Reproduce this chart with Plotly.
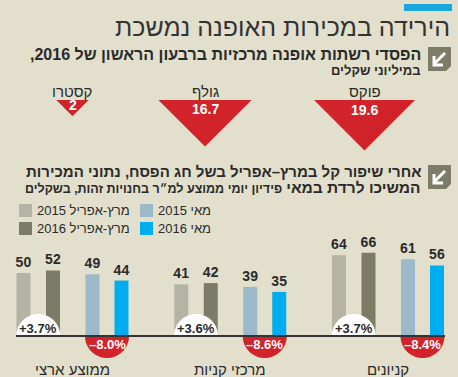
import math
import plotly.graph_objects as go

# ---------------- data ----------------
TITLE = "הירידה במכירות האופנה נמשכת"
SUB1_L1 = "הפסדי רשתות אופנה מרכזיות ברבעון הראשון של 2016,"
SUB1_L2 = "במיליוני שקלים"
SUB2_L1 = "אחרי שיפור קל במרץ–אפריל בשל חג הפסח, נתוני המכירות"
SUB2_L2A = "המשיכו לרדת במאי"
SUB2_L2B = "פידיון יומי ממוצע למ״ר בחנויות זהות, בשקלים"

chains = ["פוקס", "גולף", "קסטרו"]
losses = [19.6, 16.7, 2]

categories = ["ממוצע ארצי", "מרכזי קניות", "קניונים"]
series_names = ["מרץ-אפריל 2015", "מרץ-אפריל 2016", "מאי 2015", "מאי 2016"]
marapr_2015 = [50, 41, 64]
marapr_2016 = [52, 42, 66]
may_2015 = [49, 39, 61]
may_2016 = [44, 35, 56]
change_marapr = ["+3.7%", "+3.6%", "+3.7%"]
change_may = ["–8.0%", "–8.6%", "–8.4%"]

# ---------------- style / layout ----------------
W, H = 458, 377
BG = "#e2dfcc"
RED = "#d2232a"
DARK = "#2a2a2a"
ICON = "#7d7c69"
BLUE_TOP = "#1aa6df"
BAR_COLORS = ["#b4b3a4", "#7c7b66", "#9cb9c9", "#00aeef"]
HEB = "Liberation Sans, Arial, DejaVu Sans, sans-serif"


def px(x):
    return x / W


def py(y):
    return 1 - y / H


def rtl(s):
    return "\u202b" + s + "\u202c"


fig = go.Figure()

# ---- triangles panel (axis units = pixels) ----
TRI_CX = [364.5, 205, 72.5]
TRI_W_MAX = 101
TRI_TOP_PX, TRI_BOT_PX = 100, 160
tx, ty, tri_h = [], [], []
vmax = max(losses)
for cx, v in zip(TRI_CX, losses):
    w = TRI_W_MAX * math.sqrt(v / vmax)
    h = w / 2
    tri_h.append(h)
    tx += [cx - w / 2, cx + w / 2, cx, cx - w / 2, None]
    ty += [0, 0, -h, 0, None]
fig.add_trace(go.Scatter(x=tx, y=ty, mode="lines", fill="toself",
                         fillcolor=RED, line=dict(width=0, color=RED),
                         hoverinfo="skip", xaxis="x2", yaxis="y2"))

# ---- bars panel ----
G0_PX = 72.5          # pixel of first group centre
S = 157.75            # pixels per group
DOM_L, DOM_R = 16, 445
BAR_TOP_PX, BAR_BOT_PX, BASE_PX = 236, 360, 336
PX_PER_UNIT = 1.26
BAR_W_PX = 14
BAR_LEFTS_PX = [-56, -26.5, 13, 42]

series = [marapr_2015, marapr_2016, may_2015, may_2016]
xs = list(range(len(categories)))
for name, vals, col, left in zip(series_names, series, BAR_COLORS, BAR_LEFTS_PX):
    fig.add_trace(go.Bar(
        x=xs, y=vals, name=name, marker=dict(color=col, line=dict(width=0)),
        width=BAR_W_PX / S, offset=left / S,
        text=vals, texttemplate="<b>%{text}</b>", textposition="outside",
        textfont=dict(family=HEB, size=14, color=DARK),
        constraintext="none", cliponaxis=False, hoverinfo="skip",
        xaxis="x", yaxis="y"))

shapes = []
annotations = []


def semicircle(r, up=True, n=40):
    pts = []
    for i in range(n + 1):
        t = math.pi * i / n
        x = r * math.cos(t)
        y = r * math.sin(t) * (1 if up else -1)
        pts.append(f"{x:.2f},{y:.2f}")
    return "M " + " L ".join(pts) + " Z"


R = 22
pair1_c = (BAR_LEFTS_PX[0] + BAR_LEFTS_PX[1] + BAR_W_PX) / 2 / S
pair2_c = (BAR_LEFTS_PX[2] + BAR_LEFTS_PX[3] + BAR_W_PX) / 2 / S
for i in xs:
    shapes.append(dict(type="path", xref="x", yref="y", xsizemode="pixel",
                       ysizemode="pixel", xanchor=i + pair1_c, yanchor=0,
                       path=semicircle(R, True), fillcolor="white",
                       line=dict(width=0), layer="above"))
    shapes.append(dict(type="path", xref="x", yref="y", xsizemode="pixel",
                       ysizemode="pixel", xanchor=i + pair2_c, yanchor=0,
                       path=semicircle(R, False), fillcolor=RED,
                       line=dict(width=0), layer="above"))
    annotations.append(dict(x=i + pair1_c, y=0, xref="x", yref="y",
                            text="<b>" + change_marapr[i] + "</b>", showarrow=False,
                            yshift=8, font=dict(family=HEB, size=13, color=DARK)))
    annotations.append(dict(x=i + pair2_c, y=0, xref="x", yref="y",
                            text="<b>" + change_may[i] + "</b>", showarrow=False,
                            yshift=-8, font=dict(family=HEB, size=13, color="white")))
    annotations.append(dict(x=i, y=py(369), xref="x", yref="paper",
                            text=rtl(categories[i]), showarrow=False, yanchor="middle",
                            font=dict(family=HEB, size=15, color=DARK)))

# baseline
shapes.append(dict(type="line", xref="x domain", yref="y", x0=0, x1=1, y0=0, y1=0,
                   line=dict(color="#333333", width=2), layer="above"))

# triangle labels
for cx, name, v, h in zip(TRI_CX, chains, losses, tri_h):
    annotations.append(dict(x=cx, y=0, xref="x2", yref="y2", text=rtl(name),
                            showarrow=False, yanchor="middle", yshift=9,
                            font=dict(family=HEB, size=15, color=DARK)))
    annotations.append(dict(x=cx, y=0, xref="x2", yref="y2",
                            text="<b>%s</b>" % ("%g" % v),
                            showarrow=False, yanchor="middle",
                            yshift=-max(5, 0.2 * h),
                            font=dict(family=HEB, size=14, color="white")))

# top blue bar
shapes.append(dict(type="rect", xref="paper", yref="paper", x0=px(404), x1=px(452),
                   y0=py(11), y1=py(4), fillcolor=BLUE_TOP, line=dict(width=0)))


def icon(top):
    x0, x1, c = 428, 451, 5
    y0, y1 = top, top + 24
    p = (f"M {px(x0)},{py(y0)} L {px(x1)},{py(y0)} L {px(x1)},{py(y1 - c)} "
         f"L {px(x1 - c)},{py(y1)} L {px(x0)},{py(y1)} Z")
    shapes.append(dict(type="path", xref="paper", yref="paper", path=p,
                       fillcolor=ICON, line=dict(width=0)))
    a = (f"M {px(445)},{py(top + 6)} L {px(434)},{py(top + 17)} "
         f"M {px(434)},{py(top + 9)} L {px(434)},{py(top + 18)} L {px(443)},{py(top + 18)}")
    shapes.append(dict(type="path", xref="paper", yref="paper", path=a,
                       line=dict(color="white", width=3)))


icon(47)
icon(165)

# titles
annotations += [
    dict(x=px(452), y=py(27), xref="paper", yref="paper", xanchor="right",
         yanchor="middle", showarrow=False, text=rtl(TITLE),
         font=dict(family=HEB, size=25, color="#333333")),
    dict(x=px(423), y=py(55), xref="paper", yref="paper", xanchor="right",
         yanchor="middle", showarrow=False, text="<b>" + rtl(SUB1_L1) + "</b>",
         font=dict(family=HEB, size=16, color=DARK)),
    dict(x=px(423), y=py(70), xref="paper", yref="paper", xanchor="right",
         yanchor="middle", showarrow=False, text="<b>" + rtl(SUB1_L2) + "</b>",
         font=dict(family=HEB, size=13, color=DARK)),
    dict(x=px(423), y=py(171), xref="paper", yref="paper", xanchor="right",
         yanchor="middle", showarrow=False, text="<b>" + rtl(SUB2_L1) + "</b>",
         font=dict(family=HEB, size=15, color=DARK)),
    dict(x=px(423), y=py(188), xref="paper", yref="paper", xanchor="right",
         yanchor="middle", showarrow=False,
         text="<b>" + rtl(SUB2_L2A + " <span style='font-size:12.5px'>" + SUB2_L2B + "</span>") + "</b>",
         font=dict(family=HEB, size=15.5, color=DARK)),
]

# legend (manual)
LEG_POS = [(19, 204), (19, 222), (140, 204), (140, 222)]
for (lx, ly), name, col in zip(LEG_POS, series_names, BAR_COLORS):
    shapes.append(dict(type="rect", xref="paper", yref="paper", x0=px(lx),
                       x1=px(lx + 13), y0=py(ly + 13), y1=py(ly), fillcolor=col,
                       line=dict(width=0)))
    annotations.append(dict(x=px(lx + 16), y=py(ly + 6.5), xref="paper", yref="paper",
                            xanchor="left", yanchor="middle", showarrow=False,
                            text=rtl(name), font=dict(family=HEB, size=13, color=DARK)))

fig.update_layout(
    width=W, height=H, margin=dict(l=0, r=0, t=0, b=0),
    paper_bgcolor=BG, plot_bgcolor="rgba(0,0,0,0)", showlegend=False,
    barmode="overlay",
    xaxis=dict(domain=[px(DOM_L), px(DOM_R)],
               range=[(DOM_L - G0_PX) / S, (DOM_R - G0_PX) / S],
               visible=False, fixedrange=True),
    yaxis=dict(domain=[py(BAR_BOT_PX), py(BAR_TOP_PX)],
               range=[-(BAR_BOT_PX - BASE_PX) / PX_PER_UNIT, (BASE_PX - BAR_TOP_PX) / PX_PER_UNIT],
               visible=False, fixedrange=True),
    xaxis2=dict(domain=[0, 1], range=[0, W], visible=False, anchor="y2", fixedrange=True),
    yaxis2=dict(domain=[py(TRI_BOT_PX), py(TRI_TOP_PX)],
                range=[-(TRI_BOT_PX - TRI_TOP_PX), 0], visible=False, anchor="x2",
                fixedrange=True),
    shapes=shapes, annotations=annotations,
)

fig.write_html("out.html", config={"displayModeBar": False},
               post_script="document.body.style.margin='0';document.body.style.background='%s';" % BG)
